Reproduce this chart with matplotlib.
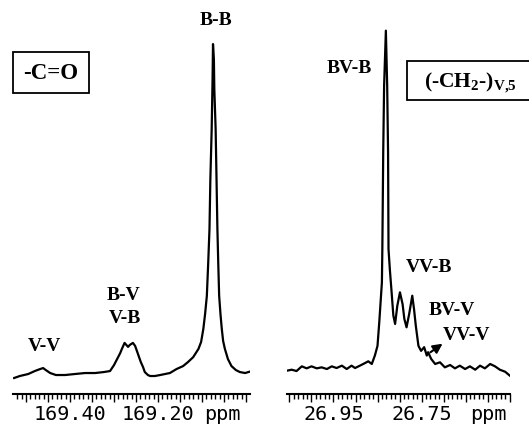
import numpy as np
import matplotlib.pyplot as plt
from matplotlib.patches import Rectangle
from matplotlib.ticker import MultipleLocator

plt.rcParams['mathtext.fontset'] = 'custom'
plt.rcParams['mathtext.rm'] = 'Liberation Serif:bold'
plt.rcParams['mathtext.it'] = 'Liberation Serif:bold'
plt.rcParams['mathtext.bf'] = 'Liberation Serif:bold'

# carbonyl (-C=O) region: chemical shift (ppm) and relative intensity (B-B = 100)
co_ppm = [169.527, 169.514, 169.495, 169.480, 169.468, 169.461, 169.455, 169.445,
          169.432, 169.411, 169.389, 169.366, 169.343, 169.323, 169.309, 169.300,
          169.293, 169.286, 169.282, 169.276, 169.272, 169.268, 169.264, 169.257,
          169.252, 169.248, 169.243, 169.239, 169.234, 169.230, 169.223, 169.218,
          169.207, 169.195, 169.184, 169.173, 169.158, 169.143, 169.132, 169.120,
          169.108, 169.102, 169.097, 169.093, 169.089, 169.086, 169.083, 169.081,
          169.078, 169.076, 169.075, 169.073, 169.072, 169.069, 169.067, 169.065,
          169.063, 169.061, 169.058, 169.055, 169.052, 169.048, 169.041, 169.033,
          169.023, 169.014, 169.002, 168.987]
co_int = [-0.9, -0.3, 0.3, 1.2, 1.8, 2.1, 1.5, 0.6,
          0.0, 0.0, 0.3, 0.6, 0.6, 0.9, 1.2, 3.0,
          4.8, 6.6, 7.9, 9.7, 9.1, 8.5, 9.1, 9.7,
          8.8, 7.3, 5.4, 3.9, 2.4, 0.9, 0.0, -0.3,
          -0.3, 0.0, 0.3, 0.6, 1.8, 2.7, 3.9, 5.4,
          7.9, 10.0, 13.9, 18.4, 23.9, 33.5, 44.1, 59.2,
          74.3, 89.4, 100.0, 95.5, 86.4, 74.3, 59.2, 44.1,
          33.5, 23.9, 18.4, 13.9, 10.3, 7.9, 4.8, 2.7,
          1.5, 0.9, 0.6, 1.2]

# methylene (-CH2-) region: chemical shift (ppm) and relative intensity (BV-B = 100)
ch2_ppm = [27.056, 27.045, 27.034, 27.022, 27.011, 27.000, 26.988, 26.977,
           26.965, 26.954, 26.943, 26.931, 26.920, 26.909, 26.901, 26.890,
           26.878, 26.871, 26.863, 26.856, 26.850, 26.846, 26.840, 26.839,
           26.837, 26.835, 26.831, 26.828, 26.826, 26.825, 26.822, 26.818,
           26.814, 26.810, 26.805, 26.799, 26.793, 26.789, 26.784, 26.778,
           26.771, 26.767, 26.763, 26.757, 26.751, 26.744, 26.738, 26.735,
           26.728, 26.719, 26.708, 26.697, 26.685, 26.674, 26.663, 26.651,
           26.640, 26.628, 26.617, 26.606, 26.594, 26.583, 26.572, 26.560,
           26.549]
ch2_int = [-1.1, -0.8, -1.2, 0.2, -0.4, 0.2, -0.4, -0.1,
           -0.6, 0.2, -0.3, 0.4, -0.6, 0.4, -0.3, 0.4,
           1.2, 1.7, 0.9, 3.4, 6.3, 13.3, 25.2, 35.1,
           63.9, 83.6, 100.0, 83.6, 63.9, 35.1, 29.1, 22.3,
           15.3, 12.8, 18.2, 22.2, 18.7, 14.3, 11.8, 15.8,
           21.2, 17.2, 12.3, 6.3, 4.8, 5.9, 3.4, 4.4,
           2.4, 0.9, 1.4, -0.1, 0.6, -0.4, 0.4, -0.6,
           0.2, -0.8, 0.4, -0.4, 0.9, 0.2, -0.8, -1.4,
           -2.6]

co_labels = ['169.40', '169.20']
ch2_labels = ['26.95', '26.75']

fig = plt.figure(figsize=(5.29, 4.27), dpi=100)
ax1 = fig.add_axes([0.0246, 0.0749, 0.448, 0.925])
ax2 = fig.add_axes([0.5425, 0.0749, 0.4216, 0.925])


def ruler(ax, lo, hi, labelled, ppm_x):
    ax.set_xlim(lo, hi)
    for s in ['top', 'left', 'right']:
        ax.spines[s].set_visible(False)
    ax.spines['bottom'].set_linewidth(1.5)
    ax.set_yticks([])
    ax.patch.set_alpha(0)
    start = np.ceil(hi / 0.05) * 0.05
    major = np.round(np.arange(start, lo, 0.05), 2)
    labels = [f'{t:.2f}' if f'{t:.2f}' in labelled else '' for t in major]
    ax.set_xticks(major, labels)
    ax.xaxis.set_minor_locator(MultipleLocator(0.01))
    ax.tick_params(axis='x', which='major', length=6, width=1.0, pad=1.5,
                   labelsize=14.5)
    ax.tick_params(axis='x', which='minor', length=3.6, width=1.0)
    for lab in ax.get_xticklabels():
        lab.set_fontfamily('DejaVu Sans Mono')
    ax.text(ppm_x, -0.025, 'ppm', transform=ax.transAxes, ha='center', va='top',
            fontsize=14.5, family='DejaVu Sans Mono')


lab_font = dict(family='Liberation Serif', weight='bold', fontsize=14,
                ha='center', va='center')

# carbonyl panel
ax1.plot(co_ppm, co_int, color='black', lw=1.6)
ax1.set_ylim(-5.74, 113.6)
ruler(ax1, 169.5295, 168.9909, co_labels, 0.882)
ax1.text(169.068, 107.5, 'B-B', **lab_font)
ax1.text(169.279, 24.4, 'B-V', **lab_font)
ax1.text(169.275, 17.4, 'V-B', **lab_font)
ax1.text(169.459, 8.9, 'V-V', **lab_font)
ax1.text(0.160, 0.814, '-C=O', transform=ax1.transAxes, family='Liberation Serif',
         weight='bold', fontsize=16.5, ha='center', va='center',
         bbox=dict(boxstyle='square,pad=0.45', fc='white', ec='black', lw=1.3))

# methylene panel
ax2.plot(ch2_ppm, ch2_int, color='black', lw=1.6)
ax2.set_ylim(-8.03, 109.4)
ruler(ax2, 27.0557, 26.5489, ch2_labels, 0.9036)
ax2.text(26.914, 89.1, 'BV-B', **lab_font)
ax2.text(26.732, 30.0, 'VV-B', **lab_font)
ax2.text(26.681, 17.0, 'BV-V', **lab_font)
ax2.text(26.647, 9.8, 'VV-V', **lab_font)
ax2.annotate('', xy=(26.697, 7.4), xytext=(26.735, 3.9),
             arrowprops=dict(arrowstyle='-|>', mutation_scale=14, lw=1.5,
                             color='black'))
# label box runs off the right edge of the picture
ax2.add_patch(Rectangle((0.538, 0.745), 0.62, 0.097, transform=ax2.transAxes,
                        fc='white', ec='black', lw=1.3, clip_on=False))
ax2.text(0.822, 0.790, '(-CH$_2$-)$_{\\mathrm{V{,}5}}$', transform=ax2.transAxes,
         family='Liberation Serif', weight='bold', fontsize=15.5, ha='center',
         va='center')

fig.savefig('out.png', dpi=100)
